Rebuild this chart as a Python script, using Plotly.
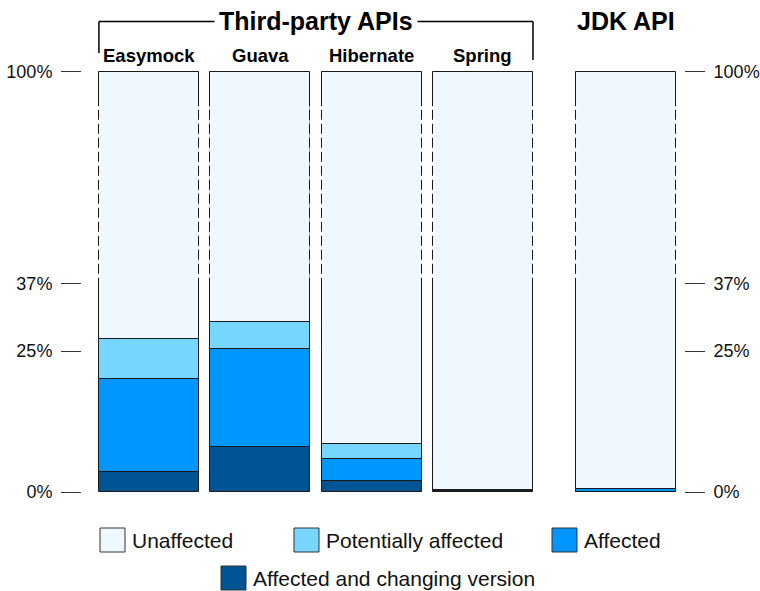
import plotly.graph_objects as go

# ---------------- data ----------------
categories = ["Easymock", "Guava", "Hibernate", "Spring", "JDK API"]
x_positions = [0, 1, 2, 3, 4.285]
series_names = ["Affected and changing version", "Affected", "Potentially affected", "Unaffected"]
affected_changing = [3.5, 8.0, 2.0, 0.2, 0.05]
affected = [16.5, 17.3, 3.9, 0.1, 0.6]
potentially_affected = [7.1, 4.8, 2.7, 0.0, 0.0]
unaffected = [72.9, 69.9, 91.4, 99.7, 99.35]
tick_values = [0, 25, 37, 100]
tick_labels = ["0%", "25%", "37%", "100%"]
group_label = "Third-party APIs"
colors = ["#005493", "#0096ff", "#76d6ff", "#eff7ff"]

# ------------- broken scale -------------
BREAK = 37.0
TOP_DISPLAY = 74.47
K = (TOP_DISPLAY - BREAK) / (100 - BREAK)


def T(v):
    return v if v <= BREAK else BREAK + (v - BREAK) * K


FONT = "Liberation Sans, Arial, Helvetica, sans-serif"
W, H = 760, 591
ML, MR, MT, MB = 82, 76, 69, 96
PW, PH = W - ML - MR, H - MT - MB


def px_x(px):
    return (px - ML) / PW


def px_y(py):
    return (H - MB - py) / PH


BAR_W = 0.9
fig = go.Figure()
series_vals = [affected_changing, affected, potentially_affected, unaffected]
cum = [0.0] * len(categories)
for name, vals, col in zip(series_names, series_vals, colors):
    bases = [T(c) for c in cum]
    tops = [T(c + v) for c, v in zip(cum, vals)]
    fig.add_trace(go.Bar(
        x=x_positions, y=[t - b for t, b in zip(tops, bases)], base=bases,
        width=BAR_W, name=name, showlegend=False,
        marker=dict(color=col, line=dict(color="#1a1a1a", width=1)),
    ))
    cum = [c + v for c, v in zip(cum, vals)]

# invisible trace to carry the right-hand axis
fig.add_trace(go.Scatter(x=[None], y=[None], yaxis="y2", showlegend=False, hoverinfo="skip"))

shapes = []
# dashed (broken) sides of bars across the scale break
for xp in x_positions:
    for side in (-BAR_W / 2, BAR_W / 2):
        shapes.append(dict(type="line", xref="x", yref="y", x0=xp + side, x1=xp + side,
                           y0=38.0, y1=68.4, line=dict(color="white", width=2, dash="4px,10px"),
                           layer="above"))

# bracket over third-party APIs
xl = x_positions[0] - BAR_W / 2
xr = x_positions[3] + BAR_W / 2
yb = px_y(21.5)
shapes += [
    dict(type="line", xref="x", yref="paper", x0=xl, x1=xr, y0=yb, y1=yb, line=dict(color="black", width=1.5)),
    dict(type="line", xref="x", yref="paper", x0=xl, x1=xl, y0=yb, y1=px_y(53), line=dict(color="black", width=1.5)),
    dict(type="line", xref="x", yref="paper", x0=xr, x1=xr, y0=yb, y1=px_y(60), line=dict(color="black", width=1.5)),
]

annotations = [
    dict(text="<b>" + group_label + "</b>", x=(x_positions[0] + x_positions[3]) / 2, xref="x",
         y=yb, yref="paper", yanchor="middle", showarrow=False, bgcolor="white", borderpad=4,
         font=dict(family=FONT, size=25, color="black")),
    dict(text="<b>" + categories[4] + "</b>", x=x_positions[4], xref="x",
         y=yb, yref="paper", yanchor="middle", showarrow=False,
         font=dict(family=FONT, size=25, color="black")),
]
for c, xp in zip(categories[:4], x_positions[:4]):
    annotations.append(dict(text="<b>" + c + "</b>", x=xp, xref="x", y=px_y(56), yref="paper",
                            yanchor="middle", showarrow=False,
                            font=dict(family=FONT, size=18.5, color="black")))

# manual legend
legend_order = [3, 2, 1, 0]
legend_pos = [(100, 528), (294, 528), (552, 528), (221, 566)]
for idx, (lx, ly) in zip(legend_order, legend_pos):
    shapes.append(dict(type="rect", xref="paper", yref="paper", x0=px_x(lx), x1=px_x(lx + 25),
                       y0=px_y(ly), y1=px_y(ly + 24), fillcolor=colors[idx],
                       line=dict(color="#333333", width=1)))
    annotations.append(dict(text=series_names[idx], x=px_x(lx + 30), xref="paper", xanchor="left",
                            y=px_y(ly + 12), yref="paper", yanchor="middle", showarrow=False,
                            font=dict(family=FONT, size=21, color="#111111")))

axis_common = dict(range=[-0.5, 75], tickmode="array", tickvals=[T(v) for v in tick_values],
                   ticktext=tick_labels, ticks="outside", ticklen=20, tickwidth=1, tickcolor="#333333",
                   showgrid=False, zeroline=False, showline=False, ticklabelstandoff=5,
                   automargin=False,
                   tickfont=dict(family=FONT, size=18, color="#111111"), fixedrange=True)

fig.update_layout(
    template="none",
    width=W, height=H, margin=dict(l=ML, r=MR, t=MT, b=MB, autoexpand=False),
    paper_bgcolor="white", plot_bgcolor="white", barmode="overlay", bargap=0,
    xaxis=dict(range=[-0.602, 4.807], visible=False, fixedrange=True, automargin=False),
    yaxis=dict(side="left", **axis_common),
    yaxis2=dict(side="right", overlaying="y", **axis_common),
    shapes=shapes, annotations=annotations, showlegend=False,
)

fig.write_html("out.html", config={"displayModeBar": False},
               post_script="document.body.style.margin='0';document.body.style.overflow='hidden';")
